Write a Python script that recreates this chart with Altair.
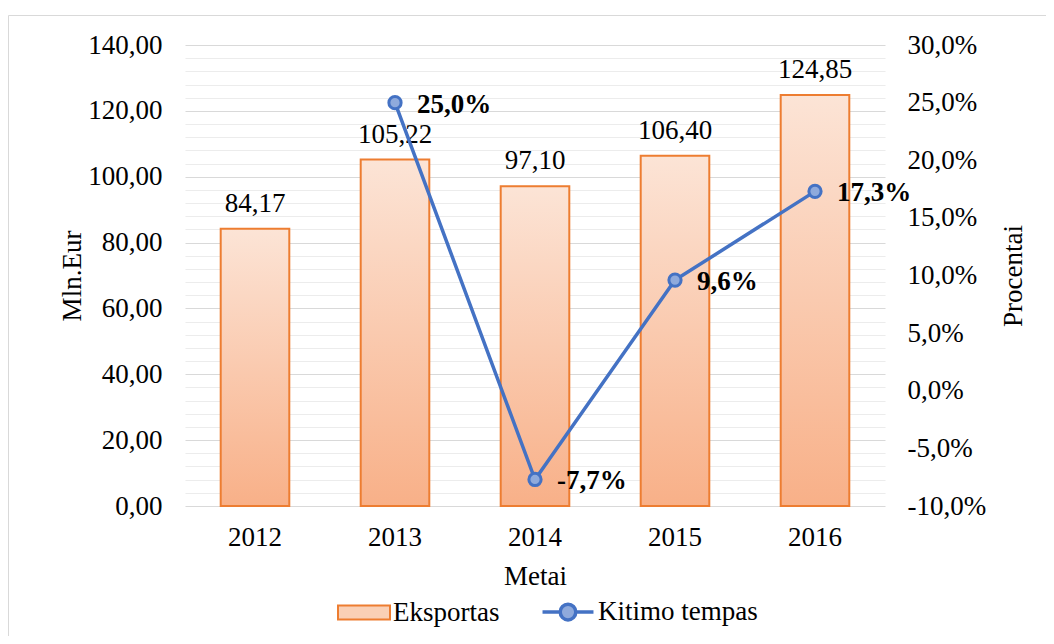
import altair as alt
import pandas as pd

years = ["2012", "2013", "2014", "2015", "2016"]
eksportas = [84.17, 105.22, 97.10, 106.40, 124.85]
tempas = [None, 25.0, -7.7, 9.6, 17.3]
series = ["Eksportas", "Kitimo tempas"]
left_ticks = list(range(0, 141, 4))
right_ticks = [-10, -5, 0, 5, 10, 15, 20, 25, 30]

FONT = "Liberation Serif"
FS = 27

df = pd.DataFrame({"year": years, "eksp": eksportas, "temp": tempas})
df_line = df.dropna(subset=["temp"])

grad = {
    "gradient": "linear", "x1": 0, "y1": 0, "x2": 0, "y2": 1,
    "stops": [{"offset": 0, "color": "#FCE4D6"}, {"offset": 1, "color": "#F8B088"}],
}

xenc = alt.X("year:N", sort=years,
             scale=alt.Scale(paddingInner=0.51, paddingOuter=0.255),
             axis=alt.Axis(title="Metai", labelAngle=0, ticks=False, domain=False,
                           grid=False, labelPadding=18, labelFont=FONT, labelFontSize=FS,
                           labelColor="#000", titleFont=FONT, titleFontSize=FS,
                           titleFontWeight="normal", titleColor="#000",
                           titleY=70, titleBaseline="middle"))

yleft = alt.Y("eksp:Q", scale=alt.Scale(domain=[0, 140], nice=False),
              axis=alt.Axis(title="Mln.Eur", values=left_ticks, ticks=False, domain=False,
                            labelOverlap=False, labelBound=False, labelFlush=False,
                            labelExpr="datum.value % 20 === 0 ? replace(format(datum.value, '.2f'), '.', ',') : ''",
                            labelPadding=23, labelFont=FONT, labelFontSize=FS, labelColor="#000",
                            gridColor={"condition": {"test": "datum.value % 20 === 0", "value": "#d9d9d9"},
                                       "value": "#ececec"},
                            gridWidth=1.2,
                            titleFont=FONT, titleFontSize=FS, titleFontWeight="normal",
                            titleColor="#000", titleX=-113, titleBaseline="middle"))

yright = alt.Y("temp:Q", scale=alt.Scale(domain=[-10, 30], nice=False),
               axis=alt.Axis(title="Procentai", orient="right", values=right_ticks, ticks=False,
                             domain=False, grid=False, labelOverlap=False,
                             labelExpr="(datum.value < 0 ? '-' : '') + replace(format(abs(datum.value), '.1f'), '.', ',') + '%'",
                             labelPadding=22, labelFont=FONT, labelFontSize=FS, labelColor="#000",
                             titleFont=FONT, titleFontSize=FS, titleFontWeight="normal",
                             titleColor="#000", titleX=128, titleAngle=270,
                             titleBaseline="middle"))

border = alt.Chart(pd.DataFrame({"a": [0]})).mark_rect(
    fill=None, stroke="#d9d9d9", strokeWidth=1
).encode(x=alt.value(-176.5), x2=alt.value(950), y=alt.value(-29.5), y2=alt.value(700))

bars = alt.Chart(df).mark_bar(fill=grad, stroke="#ED7D31", strokeWidth=2).encode(
    x=xenc, y=yleft)
bar_labels = alt.Chart(df).transform_calculate(
    lbl="replace(format(datum.eksp, '.2f'), '.', ',')"
).mark_text(font=FONT, fontSize=FS, color="#000", baseline="alphabetic", dy=-17).encode(
    x=xenc, y=yleft, text="lbl:N")
left = alt.layer(bars, bar_labels)

line = alt.Chart(df_line).mark_line(color="#4472C4", strokeWidth=3.5).encode(
    x=xenc, y=yright)
points = alt.Chart(df_line).mark_point(filled=True, fill="#8FAADC", stroke="#4472C4",
                                       strokeWidth=3, size=150, opacity=1).encode(
    x=xenc, y=yright)
pct_labels = alt.Chart(df_line).transform_calculate(
    lbl="(datum.temp < 0 ? '-' : '') + replace(format(abs(datum.temp), '.1f'), '.', ',') + '%'"
).mark_text(font=FONT, fontSize=FS, fontWeight="bold", color="#000", align="left",
            baseline="middle", dx=22, dy=2).encode(
    x=xenc, y=yright, text="lbl:N")
right = alt.layer(line, points, pct_labels)

rect_path = "M-1,-0.27L1,-0.27L1,0.27L-1,0.27Z"
line_path = ("M-0.98,0L-0.3,0M0.3,0L0.98,0"
             "M0.3,0A0.3,0.3,0,1,1,-0.3,0A0.3,0.3,0,1,1,0.3,0Z")

leg = alt.Legend(title=None, orient="none", direction="horizontal",
                 legendX=152, legendY=539, padding=0, symbolSize=2704,
                 symbolOpacity=1, labelFont=FONT, labelFontSize=FS, labelColor="#000",
                 labelOffset=2, columnPadding=35, labelLimit=400)

legend_layer = alt.Chart(pd.DataFrame({"s": series})).mark_point(
    filled=True, opacity=0, size=2704
).encode(
    shape=alt.Shape("s:N", scale=alt.Scale(domain=series, range=[rect_path, line_path]),
                    legend=leg),
    fill=alt.Fill("s:N", scale=alt.Scale(domain=series, range=["#FAD0B6", "#8FAADC"]),
                  legend=leg),
    stroke=alt.Stroke("s:N", scale=alt.Scale(domain=series, range=["#ED7D31", "#4472C4"]),
                      legend=leg),
    strokeWidth=alt.StrokeWidth("s:N", scale=alt.Scale(domain=series, range=[2, 3.5]),
                                legend=leg),
)

chart = alt.layer(border, left, right, legend_layer).resolve_scale(
    y="independent"
).properties(
    width=700, height=461, autosize="none",
    padding={"left": 177, "top": 37, "right": 161, "bottom": 130},
).configure(font=FONT).configure_view(stroke="transparent", strokeWidth=0)

chart.save("out.html", embed_options={"renderer": "svg", "actions": False})
